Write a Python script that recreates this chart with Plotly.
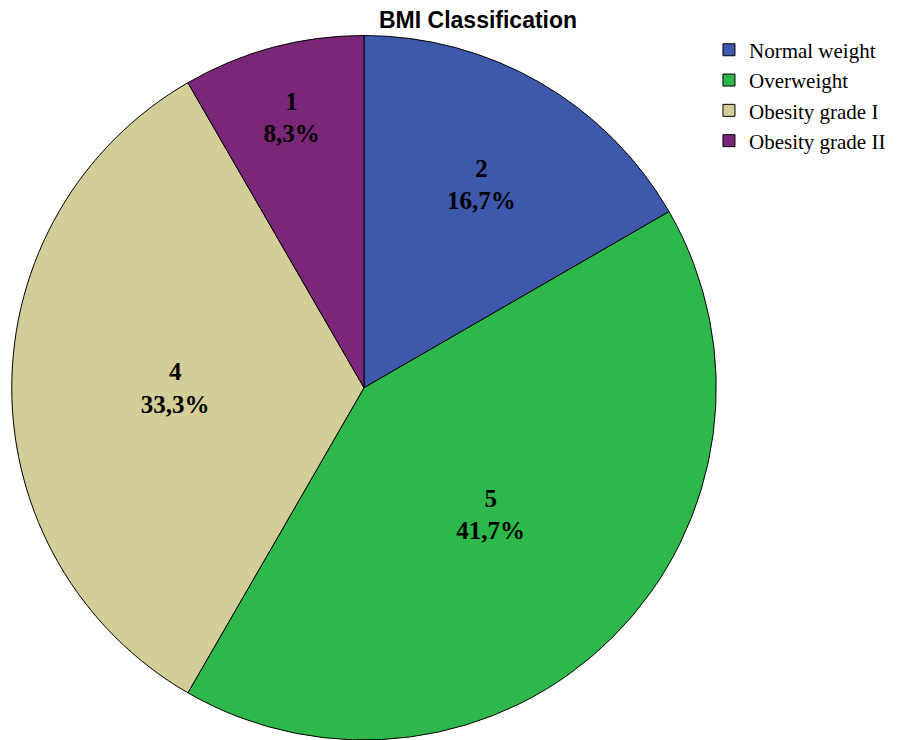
import plotly.graph_objects as go

categories = ["Normal weight", "Overweight", "Obesity grade I", "Obesity grade II"]
counts = [2, 5, 4, 1]
percent_labels = ["16,7%", "41,7%", "33,3%", "8,3%"]
colors = ["#3E58AC", "#2EB84B", "#D3CE97", "#7B2779"]

texts = [f"<b>{c}<br>{p}</b>" for c, p in zip(counts, percent_labels)]

fig = go.Figure(go.Pie(
    labels=categories,
    values=counts,
    text=texts,
    textinfo="text",
    textposition="inside",
    insidetextorientation="horizontal",
    sort=False,
    direction="clockwise",
    rotation=0,
    marker=dict(colors=colors, line=dict(color="black", width=1)),
    textfont=dict(family="Liberation Serif", size=25, color="black"),
    domain=dict(x=[11/902, 717/902], y=[0, 0.952]),
    hoverinfo="label+value+percent",
))

fig.update_layout(
    width=902, height=740,
    margin=dict(l=0, r=0, t=0, b=0),
    paper_bgcolor="white",
    plot_bgcolor="white",
    uniformtext=dict(mode="show", minsize=25),
    title=dict(text="<b>BMI Classification</b>", x=0.53, xanchor="center", y=0.973, yanchor="middle",
               font=dict(family="Liberation Sans", size=23, color="black")),
    legend=dict(x=0.786, y=0.96, xanchor="left", yanchor="top",
                font=dict(family="Liberation Serif", size=21, color="black"),
                tracegroupgap=0, itemwidth=30),
)

fig.write_html("out.html")
